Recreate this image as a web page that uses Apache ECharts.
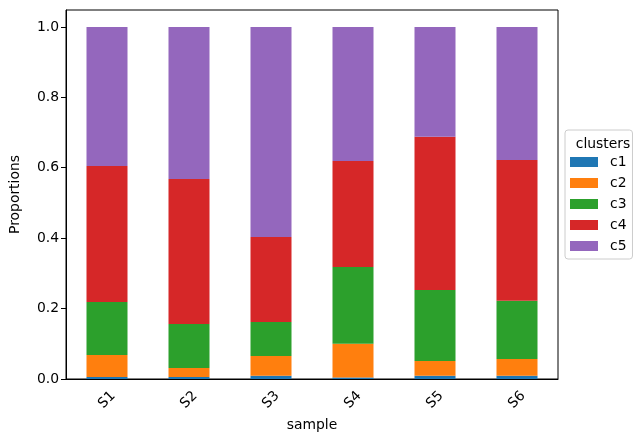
<!DOCTYPE html>
<html>
<head>
<meta charset="utf-8">
<script src="https://cdn.jsdelivr.net/npm/echarts@6/dist/echarts.min.js"></script>
<style>
  body { margin: 0; background: #fff; }
  #main { width: 640px; height: 441px; }
</style>
</head>
<body>
<div id="main"></div>
<script>
// data
var samples = ["S1", "S2", "S3", "S4", "S5", "S6"];
var clusters = ["c1", "c2", "c3", "c4", "c5"];
var c1 = [0.006, 0.006, 0.009, 0.004, 0.009, 0.009];
var c2 = [0.062, 0.025, 0.056, 0.096, 0.042, 0.048];
var c3 = [0.151, 0.125, 0.097, 0.218, 0.202, 0.165];
var c4 = [0.386, 0.412, 0.241, 0.301, 0.435, 0.400];
var c5 = [0.395, 0.432, 0.597, 0.381, 0.312, 0.378];
var yTicks = [0, 0.2, 0.4, 0.6, 0.8, 1.0];

var colors = ["#1f77b4", "#ff7f0e", "#2ca02c", "#d62728", "#9467bd"];
var values = [c1, c2, c3, c4, c5];
var font = "DejaVu Sans";

var series = [];
clusters.forEach(function (name, i) {
  series.push({
    name: name,
    type: "bar",
    stack: "total",
    barWidth: "50%",
    itemStyle: { color: colors[i] },
    data: values[i],
  });
});

var myChart = echarts.init(document.getElementById("main"));
myChart.setOption({
  animation: false,
  textStyle: { fontFamily: font },
  color: colors,
  title: {
    text: "clusters",
    left: 598,
    top: 132,
    textAlign: "center",
    textStyle: { fontFamily: font, fontSize: 13.9, fontWeight: "normal", color: "#000" },
  },
  legend: {
    orient: "vertical",
    left: 565,
    top: 130,
    padding: [24, 6, 5, 5],
    borderColor: "#cccccc",
    borderWidth: 1,
    borderRadius: 3,
    itemWidth: 28,
    itemHeight: 10,
    itemGap: 5,
    icon: "rect",
    textStyle: { fontFamily: font, fontSize: 13.9, color: "#000", lineHeight: 16, padding: [0, 0, 0, 7] },
    data: clusters,
  },
  grid: {
    left: 61,
    right: 82,
    top: 10,
    bottom: 62,
    show: true,
    borderColor: "#000",
    borderWidth: 1,
  },
  xAxis: {
    type: "category",
    data: samples,
    name: "sample",
    nameLocation: "middle",
    nameGap: 39,
    nameTextStyle: { fontFamily: font, fontSize: 13.9, color: "#000" },
    axisLine: { lineStyle: { color: "#000" } },
    axisTick: { alignWithLabel: true, length: 5, lineStyle: { color: "#000" } },
    axisLabel: {
      rotate: 45,
      align: "center",
      verticalAlign: "middle",
      margin: 21,
      fontFamily: font,
      fontSize: 13.9,
      color: "#000",
    },
  },
  yAxis: {
    type: "value",
    min: 0,
    max: 1.048,
    name: "Proportions",
    nameLocation: "middle",
    nameGap: 44,
    nameTextStyle: { fontFamily: font, fontSize: 13.9, color: "#000" },
    splitLine: { show: false },
    axisLine: { show: true, lineStyle: { color: "#000" } },
    axisTick: { show: true, length: 5, customValues: yTicks, lineStyle: { color: "#000" } },
    axisLabel: {
      customValues: yTicks,
      formatter: function (v) { return v.toFixed(1); },
      fontFamily: font,
      fontSize: 13.9,
      color: "#000",
      margin: 7,
    },
  },
  series: series,
});
</script>
</body>
</html>
